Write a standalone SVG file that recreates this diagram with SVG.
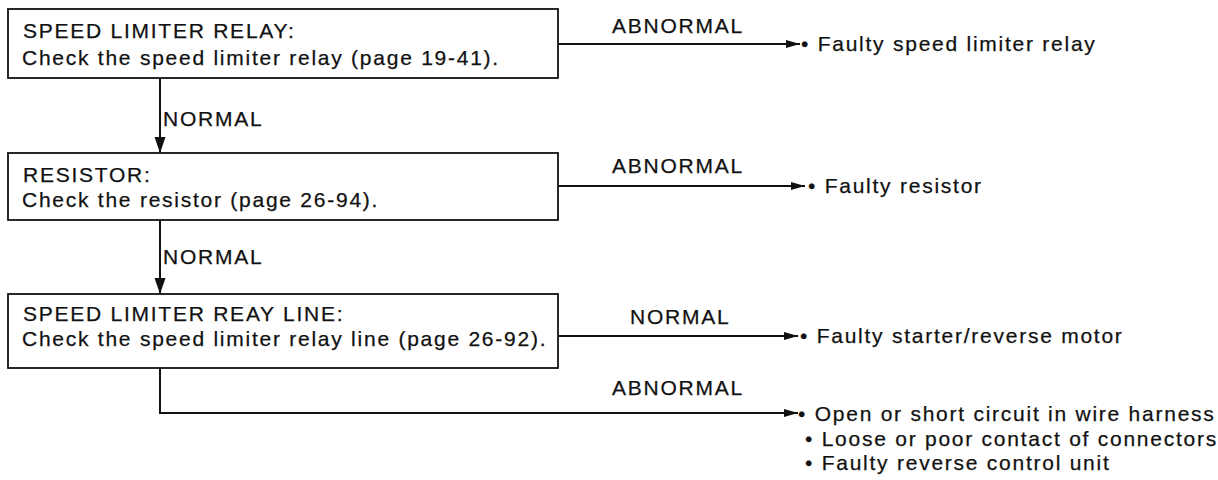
<svg xmlns="http://www.w3.org/2000/svg" width="1218" height="480" viewBox="0 0 1218 480">
  <style>
    text { font-family: "Liberation Sans", Arial, sans-serif; font-size: 21px; fill: #111; stroke: #111; stroke-width: 0.25; letter-spacing: 1.75px; }
    .box { fill: #fff; stroke: #111; stroke-width: 1.8; }
    .wire { fill: none; stroke: #111; stroke-width: 2; }
  </style>
  <defs>
    <marker id="arrowH" markerUnits="userSpaceOnUse" markerWidth="16" markerHeight="10" refX="14" refY="5" orient="auto">
      <path d="M0,1 L14,5 L0,9 Z" fill="#111"/>
    </marker>
    <marker id="arrowV" markerUnits="userSpaceOnUse" markerWidth="18" markerHeight="12" refX="16" refY="6" orient="auto">
      <path d="M0,0.5 L16,6 L0,11.5 Z" fill="#111"/>
    </marker>
  </defs>
  <rect width="1218" height="480" fill="#fff"/>

  <g id="connectors">
    <path class="wire" d="M160,78 V153" marker-end="url(#arrowV)"/>
    <path class="wire" d="M160,220 V294" marker-end="url(#arrowV)"/>
    <path class="wire" d="M558,44 H800" marker-end="url(#arrowH)"/>
    <path class="wire" d="M558,186 H805" marker-end="url(#arrowH)"/>
    <path class="wire" d="M558,336 H798" marker-end="url(#arrowH)"/>
    <path class="wire" d="M160,368 V413 H798" marker-end="url(#arrowH)"/>
    <text x="163" y="126">NORMAL</text>
    <text x="163" y="264">NORMAL</text>
    <text x="612" y="33">ABNORMAL</text>
    <text x="612" y="173">ABNORMAL</text>
    <text x="630" y="324">NORMAL</text>
    <text x="612" y="395">ABNORMAL</text>
  </g>

  <g id="speed-limiter-relay">
    <rect class="box" x="8" y="9" width="550" height="69"/>
    <text x="23" y="38">SPEED LIMITER RELAY:</text>
    <text x="22" y="65">Check the speed limiter relay (page 19-41).</text>
  </g>

  <g id="resistor">
    <rect class="box" x="8" y="153" width="550" height="67"/>
    <text x="23" y="182">RESISTOR:</text>
    <text x="22" y="207">Check the resistor (page 26-94).</text>
  </g>

  <g id="relay-line">
    <rect class="box" x="8" y="294" width="550" height="74"/>
    <text x="23" y="321">SPEED LIMITER REAY LINE:</text>
    <text x="22" y="346">Check the speed limiter relay line (page 26-92).</text>
  </g>

  <g id="result-relay">
    <text x="801" y="51">• Faulty speed limiter relay</text>
  </g>
  <g id="result-resistor">
    <text x="808" y="193">• Faulty resistor</text>
  </g>
  <g id="result-motor">
    <text x="800" y="343">• Faulty starter/reverse motor</text>
  </g>
  <g id="result-harness">
    <text x="798" y="421">• Open or short circuit in wire harness</text>
    <text x="805" y="446">• Loose or poor contact of connectors</text>
    <text x="805" y="470">• Faulty reverse control unit</text>
  </g>
</svg>
